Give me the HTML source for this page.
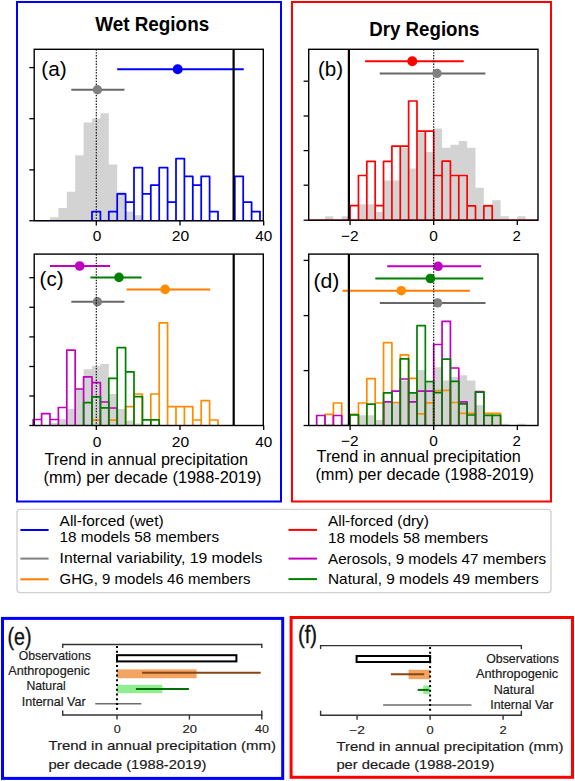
<!DOCTYPE html>
<html><head><meta charset="utf-8"><title>Precipitation trends</title>
<style>
html,body{margin:0;padding:0;background:#fff;}
body{width:575px;height:781px;overflow:hidden;font-family:"Liberation Sans", sans-serif;}
svg{display:block;}
</style></head><body>
<svg width="575" height="781" viewBox="0 0 575 781">
<rect x="0" y="0" width="575" height="781" fill="#fff"/>
<rect x="17.00" y="2.00" width="264.00" height="499.50" fill="none" stroke="#0000ff" stroke-width="2" />
<rect x="292.00" y="2.00" width="259.00" height="499.50" fill="none" stroke="#ff0000" stroke-width="2" />
<rect x="2.50" y="618.40" width="280.20" height="160.00" fill="none" stroke="#0000ff" stroke-width="3" />
<rect x="291.10" y="617.50" width="281.40" height="159.80" fill="none" stroke="#ff0000" stroke-width="3" />
<rect x="17.00" y="509.40" width="534.00" height="83.20" fill="#fff" stroke="#d0d0d0" stroke-width="1.3" rx="3" ry="3"/>
<text x="152.20" y="30.60" font-family='"Liberation Sans", sans-serif' font-size="19.8" font-weight="bold" text-anchor="middle" fill="#000" textLength="114.00" lengthAdjust="spacingAndGlyphs" >Wet Regions</text>
<text x="424.30" y="35.60" font-family='"Liberation Sans", sans-serif' font-size="19.3" font-weight="bold" text-anchor="middle" fill="#000" textLength="110.00" lengthAdjust="spacingAndGlyphs" >Dry Regions</text>
<path d="M50.00,220.70 L50.00,217.20 L58.40,217.20 L58.40,207.90 L66.80,207.90 L66.80,191.70 L75.20,191.70 L75.20,155.20 L83.60,155.20 L83.60,122.50 L92.00,122.50 L92.00,118.40 L100.40,118.40 L100.40,113.20 L108.80,113.20 L108.80,164.50 L117.20,164.50 L117.20,191.80 L125.60,191.80 L125.60,211.50 L134.00,211.50 L134.00,215.20 L142.40,215.20 L142.40,220.70 Z" fill="#d3d3d3" stroke="none"/>
<line x1="34.20" y1="220.70" x2="263.30" y2="220.70" stroke="#0000ff" stroke-width="1.2"/>
<path d="M92.00,220.70 L92.00,211.60 L100.40,211.60 L100.40,220.70 M108.80,220.70 L108.80,211.60 L117.20,211.60 L117.20,220.70 M117.20,220.70 L117.20,193.80 L125.60,193.80 L125.60,220.70 M125.60,220.70 L125.60,202.10 L134.00,202.10 L134.00,220.70 M134.00,220.70 L134.00,167.70 L142.40,167.70 L142.40,220.70 M142.40,220.70 L142.40,193.80 L150.80,193.80 L150.80,220.70 M150.80,220.70 L150.80,185.00 L159.20,185.00 L159.20,220.70 M159.20,220.70 L159.20,167.70 L167.60,167.70 L167.60,220.70 M167.60,220.70 L167.60,202.10 L176.00,202.10 L176.00,220.70 M176.00,220.70 L176.00,158.70 L184.40,158.70 L184.40,220.70 M184.40,220.70 L184.40,176.40 L192.80,176.40 L192.80,220.70 M192.80,220.70 L192.80,185.00 L201.20,185.00 L201.20,220.70 M201.20,220.70 L201.20,176.40 L209.60,176.40 L209.60,220.70 M209.60,220.70 L209.60,211.60 L218.00,211.60 L218.00,220.70 M234.80,220.70 L234.80,176.40 L243.20,176.40 L243.20,220.70 M243.20,220.70 L243.20,202.10 L251.60,202.10 L251.60,220.70 M251.60,220.70 L251.60,211.60 L260.00,211.60 L260.00,220.70" fill="none" stroke="#0000ff" stroke-width="1.75" stroke-linejoin="round" stroke-linecap="butt"/>
<line x1="117.20" y1="69.20" x2="243.70" y2="69.20" stroke="#0000ff" stroke-width="2" />
<circle cx="177.70" cy="69.20" r="5.0" fill="#0000ff"/>
<line x1="96.30" y1="49.30" x2="96.30" y2="220.70" stroke="#000" stroke-width="1.1" stroke-dasharray="1.45 1.4"/>
<line x1="71.30" y1="89.70" x2="124.50" y2="89.70" stroke="#686868" stroke-width="2" />
<circle cx="97.40" cy="89.70" r="4.7" fill="#808080"/>
<line x1="233.60" y1="49.30" x2="233.60" y2="220.70" stroke="#000" stroke-width="2.2" />
<rect x="34.20" y="49.30" width="229.10" height="171.40" fill="none" stroke="#000" stroke-width="1.4" />
<line x1="29.30" y1="67.60" x2="34.20" y2="67.60" stroke="#000" stroke-width="1.3" />
<line x1="29.30" y1="118.70" x2="34.20" y2="118.70" stroke="#000" stroke-width="1.3" />
<line x1="29.30" y1="169.90" x2="34.20" y2="169.90" stroke="#000" stroke-width="1.3" />
<line x1="29.30" y1="220.70" x2="34.20" y2="220.70" stroke="#000" stroke-width="1.3" />
<line x1="96.30" y1="220.70" x2="96.30" y2="225.60" stroke="#000" stroke-width="1.3" />
<line x1="180.00" y1="220.70" x2="180.00" y2="225.60" stroke="#000" stroke-width="1.3" />
<line x1="263.70" y1="220.70" x2="263.70" y2="225.60" stroke="#000" stroke-width="1.3" />
<text x="97.00" y="240.60" font-family='"Liberation Sans", sans-serif' font-size="14.8" font-weight="normal" text-anchor="middle" fill="#000" textLength="8.60" lengthAdjust="spacingAndGlyphs" >0</text>
<text x="180.50" y="240.60" font-family='"Liberation Sans", sans-serif' font-size="14.8" font-weight="normal" text-anchor="middle" fill="#000" textLength="17.40" lengthAdjust="spacingAndGlyphs" >20</text>
<text x="263.70" y="240.60" font-family='"Liberation Sans", sans-serif' font-size="14.8" font-weight="normal" text-anchor="middle" fill="#000" textLength="17.00" lengthAdjust="spacingAndGlyphs" >40</text>
<text x="41.30" y="75.90" font-family='"Liberation Sans", sans-serif' font-size="20.5" font-weight="normal" text-anchor="start" fill="#000" textLength="25.40" lengthAdjust="spacingAndGlyphs" >(a)</text>
<path d="M50.00,425.50 L50.00,423.00 L58.40,423.00 L58.40,419.00 L66.80,419.00 L66.80,408.80 L75.20,408.80 L75.20,389.00 L83.60,389.00 L83.60,369.20 L92.00,369.20 L92.00,366.00 L100.40,366.00 L100.40,364.00 L108.80,364.00 L108.80,394.00 L117.20,394.00 L117.20,409.00 L125.60,409.00 L125.60,420.40 L134.00,420.40 L134.00,423.50 L142.40,423.50 L142.40,425.50 Z" fill="#d3d3d3" stroke="none"/>
<line x1="92.00" y1="425.50" x2="218.00" y2="425.50" stroke="#ff8c00" stroke-width="1.2"/>
<path d="M92.00,425.50 L92.00,420.20 L100.40,420.20 L100.40,425.50 M108.80,425.50 L108.80,420.20 L117.20,420.20 L117.20,425.50 M125.60,425.50 L125.60,406.60 L134.00,406.60 L134.00,425.50 M134.00,425.50 L134.00,394.00 L142.40,394.00 L142.40,425.50 M150.80,425.50 L150.80,394.00 L159.20,394.00 L159.20,425.50 M159.20,425.50 L159.20,322.80 L167.60,322.80 L167.60,425.50 M167.60,425.50 L167.60,406.60 L176.00,406.60 L176.00,425.50 M176.00,425.50 L176.00,406.60 L184.40,406.60 L184.40,425.50 M184.40,425.50 L184.40,406.60 L192.80,406.60 L192.80,425.50 M192.80,425.50 L192.80,420.00 L201.20,420.00 L201.20,425.50 M201.20,425.50 L201.20,400.60 L209.60,400.60 L209.60,425.50 M209.60,425.50 L209.60,420.00 L218.00,420.00 L218.00,425.50" fill="none" stroke="#ff8c00" stroke-width="1.7" stroke-linejoin="round" stroke-linecap="butt"/>
<line x1="33.20" y1="425.50" x2="263.30" y2="425.50" stroke="#c000c0" stroke-width="1.2"/>
<path d="M33.20,425.50 L33.20,419.50 L41.60,419.50 L41.60,425.50 M41.60,425.50 L41.60,413.70 L50.00,413.70 L50.00,425.50 M50.00,425.50 L50.00,419.50 L58.40,419.50 L58.40,425.50 M58.40,425.50 L58.40,407.50 L66.80,407.50 L66.80,425.50 M66.80,425.50 L66.80,350.20 L75.20,350.20 L75.20,425.50 M75.20,425.50 L75.20,389.00 L83.60,389.00 L83.60,425.50 M83.60,425.50 L83.60,376.90 L92.00,376.90 L92.00,425.50 M92.00,425.50 L92.00,382.70 L100.40,382.70 L100.40,425.50 M100.40,425.50 L100.40,402.00 L108.80,402.00 L108.80,425.50 M108.80,425.50 L108.80,408.00 L117.20,408.00 L117.20,425.50" fill="none" stroke="#c000c0" stroke-width="1.7" stroke-linejoin="round" stroke-linecap="butt"/>
<line x1="83.60" y1="425.50" x2="159.20" y2="425.50" stroke="#008000" stroke-width="1.2"/>
<path d="M83.60,425.50 L83.60,402.60 L92.00,402.60 L92.00,425.50 M92.00,425.50 L92.00,396.80 L100.40,396.80 L100.40,425.50 M100.40,425.50 L100.40,407.80 L108.80,407.80 L108.80,425.50 M108.80,425.50 L108.80,378.40 L117.20,378.40 L117.20,425.50 M117.20,425.50 L117.20,347.60 L125.60,347.60 L125.60,425.50 M125.60,425.50 L125.60,371.80 L134.00,371.80 L134.00,425.50 M134.00,425.50 L134.00,396.60 L142.40,396.60 L142.40,425.50 M142.40,425.50 L142.40,419.80 L150.80,419.80 L150.80,425.50 M150.80,425.50 L150.80,419.80 L159.20,419.80 L159.20,425.50" fill="none" stroke="#008000" stroke-width="1.7" stroke-linejoin="round" stroke-linecap="butt"/>
<line x1="50.00" y1="266.00" x2="110.00" y2="266.00" stroke="#c000c0" stroke-width="2" />
<circle cx="79.70" cy="266.00" r="4.8" fill="#c000c0"/>
<line x1="90.40" y1="277.40" x2="141.60" y2="277.40" stroke="#008000" stroke-width="2" />
<circle cx="119.00" cy="277.40" r="4.8" fill="#008000"/>
<line x1="126.60" y1="289.40" x2="210.20" y2="289.40" stroke="#ff7a00" stroke-width="2" />
<circle cx="165.10" cy="289.40" r="4.8" fill="#ff8c00"/>
<line x1="71.30" y1="301.80" x2="124.40" y2="301.80" stroke="#686868" stroke-width="2" />
<circle cx="97.40" cy="301.80" r="4.7" fill="#808080"/>
<line x1="233.70" y1="254.10" x2="233.70" y2="425.50" stroke="#000" stroke-width="2.2" />
<line x1="96.30" y1="254.10" x2="96.30" y2="425.50" stroke="#000" stroke-width="1.1" stroke-dasharray="1.45 1.4"/>
<rect x="34.20" y="254.10" width="229.10" height="171.40" fill="none" stroke="#000" stroke-width="1.4" />
<line x1="29.30" y1="277.70" x2="34.20" y2="277.70" stroke="#000" stroke-width="1.3" />
<line x1="29.30" y1="307.30" x2="34.20" y2="307.30" stroke="#000" stroke-width="1.3" />
<line x1="29.30" y1="336.90" x2="34.20" y2="336.90" stroke="#000" stroke-width="1.3" />
<line x1="29.30" y1="366.50" x2="34.20" y2="366.50" stroke="#000" stroke-width="1.3" />
<line x1="29.30" y1="396.00" x2="34.20" y2="396.00" stroke="#000" stroke-width="1.3" />
<line x1="29.30" y1="425.50" x2="34.20" y2="425.50" stroke="#000" stroke-width="1.3" />
<line x1="96.30" y1="425.50" x2="96.30" y2="430.00" stroke="#000" stroke-width="1.3" />
<line x1="180.00" y1="425.50" x2="180.00" y2="430.00" stroke="#000" stroke-width="1.3" />
<line x1="263.70" y1="425.50" x2="263.70" y2="430.00" stroke="#000" stroke-width="1.3" />
<text x="97.00" y="446.60" font-family='"Liberation Sans", sans-serif' font-size="14.8" font-weight="normal" text-anchor="middle" fill="#000" textLength="8.60" lengthAdjust="spacingAndGlyphs" >0</text>
<text x="180.50" y="446.60" font-family='"Liberation Sans", sans-serif' font-size="14.8" font-weight="normal" text-anchor="middle" fill="#000" textLength="17.40" lengthAdjust="spacingAndGlyphs" >20</text>
<text x="263.70" y="446.60" font-family='"Liberation Sans", sans-serif' font-size="14.8" font-weight="normal" text-anchor="middle" fill="#000" textLength="17.00" lengthAdjust="spacingAndGlyphs" >40</text>
<text x="39.60" y="286.30" font-family='"Liberation Sans", sans-serif' font-size="20.5" font-weight="normal" text-anchor="start" fill="#000" textLength="23.90" lengthAdjust="spacingAndGlyphs" >(c)</text>
<text x="44.60" y="464.80" font-family='"Liberation Sans", sans-serif' font-size="16.4" font-weight="normal" text-anchor="start" fill="#000" textLength="203.50" lengthAdjust="spacingAndGlyphs" >Trend in annual precipitation</text>
<text x="43.50" y="483.00" font-family='"Liberation Sans", sans-serif' font-size="16.4" font-weight="normal" text-anchor="start" fill="#000" textLength="218.00" lengthAdjust="spacingAndGlyphs" >(mm) per decade (1988-2019)</text>
<path d="M325.02,220.20 L325.02,216.20 L333.38,216.20 L333.38,220.20 L341.74,220.20 L341.74,216.20 L350.10,216.20 L350.10,220.20 L358.46,220.20 L358.46,204.20 L366.82,204.20 L366.82,204.20 L375.18,204.20 L375.18,211.90 L383.54,211.90 L383.54,180.60 L391.90,180.60 L391.90,180.60 L400.26,180.60 L400.26,147.70 L408.62,147.70 L408.62,168.40 L416.98,168.40 L416.98,132.40 L425.34,132.40 L425.34,151.90 L433.70,151.90 L433.70,128.60 L442.06,128.60 L442.06,147.70 L450.42,147.70 L450.42,144.80 L458.78,144.80 L458.78,141.00 L467.14,141.00 L467.14,147.70 L475.50,147.70 L475.50,187.70 L483.86,187.70 L483.86,204.20 L492.22,204.20 L492.22,200.30 L500.58,200.30 L500.58,216.30 L508.94,216.30 L508.94,220.20 L517.30,220.20 L517.30,216.30 L525.66,216.30 L525.66,220.20 Z" fill="#d3d3d3" stroke="none"/>
<line x1="308.70" y1="220.20" x2="538.00" y2="220.20" stroke="#ff0000" stroke-width="1.2"/>
<path d="M350.10,220.20 L350.10,205.70 L358.46,205.70 L358.46,220.20 M358.46,220.20 L358.46,175.50 L366.82,175.50 L366.82,220.20 M366.82,220.20 L366.82,161.40 L375.18,161.40 L375.18,220.20 M375.18,220.20 L375.18,205.70 L383.54,205.70 L383.54,220.20 M383.54,220.20 L383.54,161.40 L391.90,161.40 L391.90,220.20 M391.90,220.20 L391.90,146.20 L400.26,146.20 L400.26,220.20 M400.26,220.20 L400.26,146.20 L408.62,146.20 L408.62,220.20 M408.62,220.20 L408.62,101.00 L416.98,101.00 L416.98,220.20 M416.98,220.20 L416.98,131.10 L425.34,131.10 L425.34,220.20 M425.34,220.20 L425.34,131.10 L433.70,131.10 L433.70,220.20 M433.70,220.20 L433.70,175.50 L442.06,175.50 L442.06,220.20 M442.06,220.20 L442.06,161.20 L450.42,161.20 L450.42,220.20 M450.42,220.20 L450.42,175.50 L458.78,175.50 L458.78,220.20 M458.78,220.20 L458.78,175.50 L467.14,175.50 L467.14,220.20 M467.14,220.20 L467.14,205.80 L475.50,205.80 L475.50,220.20 M483.86,220.20 L483.86,205.80 L492.22,205.80 L492.22,220.20" fill="none" stroke="#ff0000" stroke-width="1.7" stroke-linejoin="round" stroke-linecap="butt"/>
<line x1="365.10" y1="61.20" x2="463.70" y2="61.20" stroke="#ff0000" stroke-width="2" />
<circle cx="412.30" cy="61.20" r="5.0" fill="#ff0000"/>
<line x1="433.70" y1="49.30" x2="433.70" y2="220.20" stroke="#000" stroke-width="1.1" stroke-dasharray="1.45 1.4"/>
<line x1="379.70" y1="73.40" x2="485.40" y2="73.40" stroke="#686868" stroke-width="2" />
<circle cx="437.00" cy="73.40" r="4.7" fill="#808080"/>
<line x1="348.90" y1="49.30" x2="348.90" y2="220.20" stroke="#000" stroke-width="2.2" />
<rect x="308.70" y="49.30" width="229.30" height="170.90" fill="none" stroke="#000" stroke-width="1.4" />
<line x1="303.60" y1="81.20" x2="308.70" y2="81.20" stroke="#000" stroke-width="1.3" />
<line x1="303.60" y1="116.00" x2="308.70" y2="116.00" stroke="#000" stroke-width="1.3" />
<line x1="303.60" y1="150.60" x2="308.70" y2="150.60" stroke="#000" stroke-width="1.3" />
<line x1="303.60" y1="185.20" x2="308.70" y2="185.20" stroke="#000" stroke-width="1.3" />
<line x1="303.60" y1="220.20" x2="308.70" y2="220.20" stroke="#000" stroke-width="1.3" />
<line x1="350.10" y1="220.20" x2="350.10" y2="225.00" stroke="#000" stroke-width="1.3" />
<line x1="433.70" y1="220.20" x2="433.70" y2="225.00" stroke="#000" stroke-width="1.3" />
<line x1="517.30" y1="220.20" x2="517.30" y2="225.00" stroke="#000" stroke-width="1.3" />
<text x="349.80" y="240.50" font-family='"Liberation Sans", sans-serif' font-size="14.8" font-weight="normal" text-anchor="middle" fill="#000" textLength="17.60" lengthAdjust="spacingAndGlyphs" >−2</text>
<text x="433.50" y="240.50" font-family='"Liberation Sans", sans-serif' font-size="14.8" font-weight="normal" text-anchor="middle" fill="#000" textLength="8.60" lengthAdjust="spacingAndGlyphs" >0</text>
<text x="516.80" y="240.50" font-family='"Liberation Sans", sans-serif' font-size="14.8" font-weight="normal" text-anchor="middle" fill="#000" textLength="8.40" lengthAdjust="spacingAndGlyphs" >2</text>
<text x="318.00" y="76.10" font-family='"Liberation Sans", sans-serif' font-size="20.5" font-weight="normal" text-anchor="start" fill="#000" textLength="25.10" lengthAdjust="spacingAndGlyphs" >(b)</text>
<path d="M325.02,425.50 L325.02,423.80 L333.38,423.80 L333.38,425.50 L341.74,425.50 L341.74,423.80 L350.10,423.80 L350.10,425.50 L358.46,425.50 L358.46,415.20 L366.82,415.20 L366.82,415.20 L375.18,415.20 L375.18,420.00 L383.54,420.00 L383.54,403.00 L391.90,403.00 L391.90,403.00 L400.26,403.00 L400.26,380.60 L408.62,380.60 L408.62,392.00 L416.98,392.00 L416.98,370.00 L425.34,370.00 L425.34,382.70 L433.70,382.70 L433.70,367.20 L442.06,367.20 L442.06,380.60 L450.42,380.60 L450.42,377.00 L458.78,377.00 L458.78,375.30 L467.14,375.30 L467.14,380.50 L475.50,380.50 L475.50,404.90 L483.86,404.90 L483.86,414.80 L492.22,414.80 L492.22,414.80 L500.58,414.80 L500.58,423.80 L508.94,423.80 L508.94,425.50 L517.30,425.50 L517.30,423.80 L525.66,423.80 L525.66,425.50 Z" fill="#d3d3d3" stroke="none"/>
<line x1="325.02" y1="425.50" x2="538.00" y2="425.50" stroke="#ff8c00" stroke-width="1.2"/>
<path d="M325.02,425.50 L325.02,414.30 L333.38,414.30 L333.38,425.50 M333.38,425.50 L333.38,403.00 L341.74,403.00 L341.74,425.50 M350.10,425.50 L350.10,414.30 L358.46,414.30 L358.46,425.50 M358.46,425.50 L358.46,403.00 L366.82,403.00 L366.82,425.50 M366.82,425.50 L366.82,378.60 L375.18,378.60 L375.18,425.50 M375.18,425.50 L375.18,403.00 L383.54,403.00 L383.54,425.50 M383.54,425.50 L383.54,342.60 L391.90,342.60 L391.90,425.50 M391.90,425.50 L391.90,402.50 L400.26,402.50 L400.26,425.50 M400.26,425.50 L400.26,354.80 L408.62,354.80 L408.62,425.50 M408.62,425.50 L408.62,378.30 L416.98,378.30 L416.98,425.50 M416.98,425.50 L416.98,413.80 L425.34,413.80 L425.34,425.50 M425.34,425.50 L425.34,402.80 L433.70,402.80 L433.70,425.50 M433.70,425.50 L433.70,390.50 L442.06,390.50 L442.06,425.50 M442.06,425.50 L442.06,390.40 L450.42,390.40 L450.42,425.50 M450.42,425.50 L450.42,402.50 L458.78,402.50 L458.78,425.50 M458.78,425.50 L458.78,413.30 L467.14,413.30 L467.14,425.50 M467.14,425.50 L467.14,413.30 L475.50,413.30 L475.50,425.50 M483.86,425.50 L483.86,413.30 L492.22,413.30 L492.22,425.50 M492.22,425.50 L492.22,413.30 L500.58,413.30 L500.58,425.50" fill="none" stroke="#ff8c00" stroke-width="1.7" stroke-linejoin="round" stroke-linecap="butt"/>
<line x1="308.70" y1="425.50" x2="483.86" y2="425.50" stroke="#c000c0" stroke-width="1.2"/>
<path d="M316.66,425.50 L316.66,415.50 L325.02,415.50 L325.02,425.50 M333.38,425.50 L333.38,415.50 L341.74,415.50 L341.74,425.50 M383.54,425.50 L383.54,401.90 L391.90,401.90 L391.90,425.50 M391.90,425.50 L391.90,391.20 L400.26,391.20 L400.26,425.50 M400.26,425.50 L400.26,379.00 L408.62,379.00 L408.62,425.50 M408.62,425.50 L408.62,401.90 L416.98,401.90 L416.98,425.50 M416.98,425.50 L416.98,391.20 L425.34,391.20 L425.34,425.50 M425.34,425.50 L425.34,391.20 L433.70,391.20 L433.70,425.50 M433.70,425.50 L433.70,344.50 L442.06,344.50 L442.06,425.50 M442.06,425.50 L442.06,321.40 L450.42,321.40 L450.42,425.50 M450.42,425.50 L450.42,368.00 L458.78,368.00 L458.78,425.50 M458.78,425.50 L458.78,401.90 L467.14,401.90 L467.14,425.50 M475.50,425.50 L475.50,391.50 L483.86,391.50 L483.86,425.50" fill="none" stroke="#c000c0" stroke-width="1.7" stroke-linejoin="round" stroke-linecap="butt"/>
<line x1="350.10" y1="425.50" x2="500.58" y2="425.50" stroke="#008000" stroke-width="1.2"/>
<path d="M350.10,425.50 L350.10,414.80 L358.46,414.80 L358.46,425.50 M366.82,425.50 L366.82,404.20 L375.18,404.20 L375.18,425.50 M383.54,425.50 L383.54,392.90 L391.90,392.90 L391.90,425.50 M400.26,425.50 L400.26,358.80 L408.62,358.80 L408.62,425.50 M408.62,425.50 L408.62,392.90 L416.98,392.90 L416.98,425.50 M416.98,425.50 L416.98,325.70 L425.34,325.70 L425.34,425.50 M425.34,425.50 L425.34,381.60 L433.70,381.60 L433.70,425.50 M433.70,425.50 L433.70,392.60 L442.06,392.60 L442.06,425.50 M442.06,425.50 L442.06,359.10 L450.42,359.10 L450.42,425.50 M450.42,425.50 L450.42,381.30 L458.78,381.30 L458.78,425.50 M458.78,425.50 L458.78,403.90 L467.14,403.90 L467.14,425.50 M467.14,425.50 L467.14,415.00 L475.50,415.00 L475.50,425.50 M475.50,425.50 L475.50,392.10 L483.86,392.10 L483.86,425.50 M483.86,425.50 L483.86,415.40 L492.22,415.40 L492.22,425.50 M492.22,425.50 L492.22,415.40 L500.58,415.40 L500.58,425.50" fill="none" stroke="#008000" stroke-width="1.7" stroke-linejoin="round" stroke-linecap="butt"/>
<line x1="387.20" y1="266.30" x2="481.20" y2="266.30" stroke="#c000c0" stroke-width="2" />
<circle cx="438.10" cy="266.30" r="4.8" fill="#c000c0"/>
<line x1="342.50" y1="290.70" x2="469.90" y2="290.70" stroke="#ff7a00" stroke-width="2" />
<circle cx="401.30" cy="290.70" r="4.8" fill="#ff8c00"/>
<line x1="379.80" y1="302.90" x2="485.50" y2="302.90" stroke="#686868" stroke-width="2" />
<circle cx="437.60" cy="302.90" r="4.7" fill="#808080"/>
<line x1="433.70" y1="254.10" x2="433.70" y2="425.50" stroke="#000" stroke-width="1.1" stroke-dasharray="1.45 1.4"/>
<line x1="375.30" y1="278.50" x2="483.30" y2="278.50" stroke="#008000" stroke-width="2" />
<circle cx="430.40" cy="278.50" r="4.8" fill="#008000"/>
<line x1="348.90" y1="254.10" x2="348.90" y2="425.50" stroke="#000" stroke-width="2.2" />
<rect x="308.70" y="254.10" width="229.30" height="171.40" fill="none" stroke="#000" stroke-width="1.4" />
<line x1="303.60" y1="260.40" x2="308.70" y2="260.40" stroke="#000" stroke-width="1.3" />
<line x1="303.60" y1="315.60" x2="308.70" y2="315.60" stroke="#000" stroke-width="1.3" />
<line x1="303.60" y1="370.60" x2="308.70" y2="370.60" stroke="#000" stroke-width="1.3" />
<line x1="303.60" y1="425.50" x2="308.70" y2="425.50" stroke="#000" stroke-width="1.3" />
<line x1="350.10" y1="425.50" x2="350.10" y2="430.00" stroke="#000" stroke-width="1.3" />
<line x1="433.70" y1="425.50" x2="433.70" y2="430.00" stroke="#000" stroke-width="1.3" />
<line x1="517.30" y1="425.50" x2="517.30" y2="430.00" stroke="#000" stroke-width="1.3" />
<text x="349.80" y="446.30" font-family='"Liberation Sans", sans-serif' font-size="14.8" font-weight="normal" text-anchor="middle" fill="#000" textLength="17.60" lengthAdjust="spacingAndGlyphs" >−2</text>
<text x="433.50" y="446.30" font-family='"Liberation Sans", sans-serif' font-size="14.8" font-weight="normal" text-anchor="middle" fill="#000" textLength="8.60" lengthAdjust="spacingAndGlyphs" >0</text>
<text x="516.80" y="446.30" font-family='"Liberation Sans", sans-serif' font-size="14.8" font-weight="normal" text-anchor="middle" fill="#000" textLength="8.40" lengthAdjust="spacingAndGlyphs" >2</text>
<text x="313.40" y="287.70" font-family='"Liberation Sans", sans-serif' font-size="21" font-weight="normal" text-anchor="start" fill="#000" textLength="26.00" lengthAdjust="spacingAndGlyphs" >(d)</text>
<text x="316.60" y="461.50" font-family='"Liberation Sans", sans-serif' font-size="16.4" font-weight="normal" text-anchor="start" fill="#000" textLength="204.20" lengthAdjust="spacingAndGlyphs" >Trend in annual precipitation</text>
<text x="315.40" y="479.50" font-family='"Liberation Sans", sans-serif' font-size="16.4" font-weight="normal" text-anchor="start" fill="#000" textLength="218.60" lengthAdjust="spacingAndGlyphs" >(mm) per decade (1988-2019)</text>
<line x1="20.40" y1="530.00" x2="48.60" y2="530.00" stroke="#0000ff" stroke-width="2" />
<line x1="20.40" y1="558.60" x2="48.60" y2="558.60" stroke="#808080" stroke-width="2" />
<line x1="20.40" y1="579.30" x2="48.60" y2="579.30" stroke="#ff7a00" stroke-width="2" />
<text x="59.60" y="526.00" font-family='"Liberation Sans", sans-serif' font-size="14.8" font-weight="normal" text-anchor="start" fill="#000" textLength="104.10" lengthAdjust="spacingAndGlyphs" >All-forced (wet)</text>
<text x="59.60" y="542.00" font-family='"Liberation Sans", sans-serif' font-size="14.8" font-weight="normal" text-anchor="start" fill="#000" textLength="159.50" lengthAdjust="spacingAndGlyphs" >18 models 58 members</text>
<text x="59.60" y="563.00" font-family='"Liberation Sans", sans-serif' font-size="14.8" font-weight="normal" text-anchor="start" fill="#000" textLength="202.80" lengthAdjust="spacingAndGlyphs" >Internal variability, 19 models</text>
<text x="59.60" y="584.00" font-family='"Liberation Sans", sans-serif' font-size="14.8" font-weight="normal" text-anchor="start" fill="#000" textLength="190.80" lengthAdjust="spacingAndGlyphs" >GHG, 9 models 46 members</text>
<line x1="288.50" y1="529.90" x2="317.00" y2="529.90" stroke="#ff0000" stroke-width="2" />
<line x1="288.50" y1="558.60" x2="317.00" y2="558.60" stroke="#c000c0" stroke-width="2" />
<line x1="288.50" y1="579.10" x2="317.00" y2="579.10" stroke="#008000" stroke-width="2" />
<text x="328.00" y="525.90" font-family='"Liberation Sans", sans-serif' font-size="14.8" font-weight="normal" text-anchor="start" fill="#000" textLength="100.90" lengthAdjust="spacingAndGlyphs" >All-forced (dry)</text>
<text x="328.00" y="543.00" font-family='"Liberation Sans", sans-serif' font-size="14.8" font-weight="normal" text-anchor="start" fill="#000" textLength="160.20" lengthAdjust="spacingAndGlyphs" >18 models 58 members</text>
<text x="328.00" y="563.60" font-family='"Liberation Sans", sans-serif' font-size="14.8" font-weight="normal" text-anchor="start" fill="#000" textLength="218.20" lengthAdjust="spacingAndGlyphs" >Aerosols, 9 models 47 members</text>
<text x="328.00" y="584.00" font-family='"Liberation Sans", sans-serif' font-size="14.8" font-weight="normal" text-anchor="start" fill="#000" textLength="210.60" lengthAdjust="spacingAndGlyphs" >Natural, 9 models 49 members</text>
<line x1="62.70" y1="644.50" x2="261.80" y2="644.50" stroke="#333" stroke-width="1.4" />
<line x1="62.70" y1="715.00" x2="261.80" y2="715.00" stroke="#333" stroke-width="1.4" />
<line x1="62.70" y1="643.80" x2="62.70" y2="648.00" stroke="#333" stroke-width="1.4" />
<line x1="62.70" y1="715.70" x2="62.70" y2="710.50" stroke="#333" stroke-width="1.4" />
<line x1="261.80" y1="643.80" x2="261.80" y2="648.00" stroke="#333" stroke-width="1.4" />
<line x1="261.80" y1="715.70" x2="261.80" y2="710.50" stroke="#333" stroke-width="1.4" />
<line x1="117.00" y1="715.00" x2="117.00" y2="719.60" stroke="#333" stroke-width="1.4" />
<line x1="189.40" y1="715.00" x2="189.40" y2="719.60" stroke="#333" stroke-width="1.4" />
<line x1="261.80" y1="715.00" x2="261.80" y2="719.60" stroke="#333" stroke-width="1.4" />
<rect x="117.00" y="669.40" width="79.64" height="8.80" fill="#f4a461" stroke="none" stroke-width="1" />
<line x1="142.10" y1="672.80" x2="260.70" y2="672.80" stroke="#8b4513" stroke-width="2" />
<rect x="117.00" y="684.80" width="45.25" height="8.40" fill="#90ee90" stroke="none" stroke-width="1" />
<line x1="135.90" y1="689.10" x2="188.90" y2="689.10" stroke="#007000" stroke-width="2" />
<rect x="117.00" y="655.20" width="119.40" height="6.20" fill="none" stroke="#000" stroke-width="2" />
<line x1="95.30" y1="703.80" x2="141.30" y2="703.80" stroke="#6e6e6e" stroke-width="1.5" />
<line x1="117.00" y1="646.00" x2="117.00" y2="712.00" stroke="#000" stroke-width="2" stroke-dasharray="2 2.75"/>
<text x="90.80" y="660.10" font-family='"Liberation Sans", sans-serif' font-size="12.2" font-weight="normal" text-anchor="end" fill="#1a1a1a" textLength="72.00" lengthAdjust="spacingAndGlyphs" stroke="#1a1a1a" stroke-width="0.18">Observations</text>
<text x="89.90" y="675.00" font-family='"Liberation Sans", sans-serif' font-size="12.2" font-weight="normal" text-anchor="end" fill="#1a1a1a" textLength="81.60" lengthAdjust="spacingAndGlyphs" stroke="#1a1a1a" stroke-width="0.18">Anthropogenic</text>
<text x="65.70" y="690.20" font-family='"Liberation Sans", sans-serif' font-size="12.2" font-weight="normal" text-anchor="end" fill="#1a1a1a" textLength="39.30" lengthAdjust="spacingAndGlyphs" stroke="#1a1a1a" stroke-width="0.18">Natural</text>
<text x="85.60" y="705.80" font-family='"Liberation Sans", sans-serif' font-size="12.2" font-weight="normal" text-anchor="end" fill="#1a1a1a" textLength="63.90" lengthAdjust="spacingAndGlyphs" stroke="#1a1a1a" stroke-width="0.18">Internal Var</text>
<text x="7.50" y="645.30" font-family='"Liberation Sans", sans-serif' font-size="23" font-weight="normal" text-anchor="start" fill="#111" textLength="24.00" lengthAdjust="spacingAndGlyphs" stroke="#111" stroke-width="0.35">(e)</text>
<text x="117.30" y="733.20" font-family='"Liberation Sans", sans-serif' font-size="11.5" font-weight="normal" text-anchor="middle" fill="#222" textLength="7.00" lengthAdjust="spacingAndGlyphs" stroke="#222" stroke-width="0.15">0</text>
<text x="189.70" y="733.20" font-family='"Liberation Sans", sans-serif' font-size="11.5" font-weight="normal" text-anchor="middle" fill="#222" textLength="14.50" lengthAdjust="spacingAndGlyphs" stroke="#222" stroke-width="0.15">20</text>
<text x="262.00" y="733.20" font-family='"Liberation Sans", sans-serif' font-size="11.5" font-weight="normal" text-anchor="middle" fill="#222" textLength="14.00" lengthAdjust="spacingAndGlyphs" stroke="#222" stroke-width="0.15">40</text>
<text x="48.40" y="750.30" font-family='"Liberation Sans", sans-serif' font-size="13.4" font-weight="normal" text-anchor="start" fill="#1a1a1a" textLength="227.50" lengthAdjust="spacingAndGlyphs" stroke="#1a1a1a" stroke-width="0.18">Trend in annual precipitation (mm)</text>
<text x="48.40" y="768.60" font-family='"Liberation Sans", sans-serif' font-size="13.4" font-weight="normal" text-anchor="start" fill="#1a1a1a" textLength="158.00" lengthAdjust="spacingAndGlyphs" stroke="#1a1a1a" stroke-width="0.18">per decade (1988-2019)</text>
<line x1="320.60" y1="645.60" x2="521.35" y2="645.60" stroke="#333" stroke-width="1.4" />
<line x1="320.60" y1="715.20" x2="521.35" y2="715.20" stroke="#333" stroke-width="1.4" />
<line x1="320.60" y1="644.90" x2="320.60" y2="649.10" stroke="#333" stroke-width="1.4" />
<line x1="320.60" y1="715.90" x2="320.60" y2="710.70" stroke="#333" stroke-width="1.4" />
<line x1="521.35" y1="644.90" x2="521.35" y2="649.10" stroke="#333" stroke-width="1.4" />
<line x1="521.35" y1="715.90" x2="521.35" y2="710.70" stroke="#333" stroke-width="1.4" />
<line x1="357.10" y1="715.20" x2="357.10" y2="719.80" stroke="#333" stroke-width="1.4" />
<line x1="430.10" y1="715.20" x2="430.10" y2="719.80" stroke="#333" stroke-width="1.4" />
<line x1="503.10" y1="715.20" x2="503.10" y2="719.80" stroke="#333" stroke-width="1.4" />
<rect x="408.56" y="669.80" width="21.54" height="9.40" fill="#f4a461" stroke="none" stroke-width="1" />
<line x1="390.90" y1="674.20" x2="424.20" y2="674.20" stroke="#8b4513" stroke-width="2" />
<rect x="423.17" y="685.50" width="6.94" height="8.40" fill="#90ee90" stroke="none" stroke-width="1" />
<line x1="417.70" y1="689.90" x2="428.70" y2="689.90" stroke="#007000" stroke-width="2" />
<rect x="356.60" y="656.00" width="73.50" height="6.00" fill="none" stroke="#000" stroke-width="2" />
<line x1="383.10" y1="705.00" x2="471.50" y2="705.00" stroke="#6e6e6e" stroke-width="1.5" />
<line x1="430.10" y1="647.00" x2="430.10" y2="712.00" stroke="#000" stroke-width="2" stroke-dasharray="2 2.75"/>
<text x="486.30" y="663.20" font-family='"Liberation Sans", sans-serif' font-size="12.2" font-weight="normal" text-anchor="start" fill="#1a1a1a" textLength="72.50" lengthAdjust="spacingAndGlyphs" stroke="#1a1a1a" stroke-width="0.18">Observations</text>
<text x="476.00" y="678.00" font-family='"Liberation Sans", sans-serif' font-size="12.2" font-weight="normal" text-anchor="start" fill="#1a1a1a" textLength="82.20" lengthAdjust="spacingAndGlyphs" stroke="#1a1a1a" stroke-width="0.18">Anthropogenic</text>
<text x="493.70" y="693.70" font-family='"Liberation Sans", sans-serif' font-size="12.2" font-weight="normal" text-anchor="start" fill="#1a1a1a" textLength="40.50" lengthAdjust="spacingAndGlyphs" stroke="#1a1a1a" stroke-width="0.18">Natural</text>
<text x="490.20" y="709.30" font-family='"Liberation Sans", sans-serif' font-size="12.2" font-weight="normal" text-anchor="start" fill="#1a1a1a" textLength="63.20" lengthAdjust="spacingAndGlyphs" stroke="#1a1a1a" stroke-width="0.18">Internal Var</text>
<text x="297.90" y="642.90" font-family='"Liberation Sans", sans-serif' font-size="23" font-weight="normal" text-anchor="start" fill="#111" textLength="19.10" lengthAdjust="spacingAndGlyphs" stroke="#111" stroke-width="0.35">(f)</text>
<text x="357.10" y="734.20" font-family='"Liberation Sans", sans-serif' font-size="11.5" font-weight="normal" text-anchor="middle" fill="#222" textLength="15.70" lengthAdjust="spacingAndGlyphs" stroke="#222" stroke-width="0.15">−2</text>
<text x="430.10" y="734.20" font-family='"Liberation Sans", sans-serif' font-size="11.5" font-weight="normal" text-anchor="middle" fill="#222" textLength="7.20" lengthAdjust="spacingAndGlyphs" stroke="#222" stroke-width="0.15">0</text>
<text x="503.10" y="734.20" font-family='"Liberation Sans", sans-serif' font-size="11.5" font-weight="normal" text-anchor="middle" fill="#222" textLength="7.20" lengthAdjust="spacingAndGlyphs" stroke="#222" stroke-width="0.15">2</text>
<text x="336.40" y="750.50" font-family='"Liberation Sans", sans-serif' font-size="13.4" font-weight="normal" text-anchor="start" fill="#1a1a1a" textLength="227.00" lengthAdjust="spacingAndGlyphs" stroke="#1a1a1a" stroke-width="0.18">Trend in annual precipitation (mm)</text>
<text x="336.40" y="768.70" font-family='"Liberation Sans", sans-serif' font-size="13.4" font-weight="normal" text-anchor="start" fill="#1a1a1a" textLength="158.00" lengthAdjust="spacingAndGlyphs" stroke="#1a1a1a" stroke-width="0.18">per decade (1988-2019)</text>
</svg>
</body></html>
